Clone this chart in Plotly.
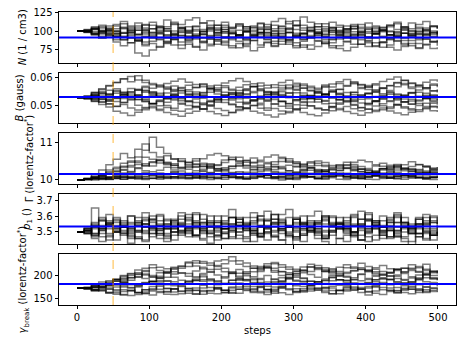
import plotly.graph_objects as go

N_walkers = [
 [100,100,97,101,94,96,88,91,86,93,90,97,92,95,99,93,96,90,94,101,97,92,95,89,93,98,94,100,96,91,95,88,92,97,93,99,95,90,94,98,92,96,101,95,91,97,93,88,94,98,95],
 [100,101,104,99,107,103,110,105,101,108,112,106,103,109,104,100,107,111,105,102,108,104,110,106,101,105,109,103,107,113,108,104,100,106,110,104,101,107,103,109,105,100,104,108,102,106,111,105,101,107,103],
 [100,99,95,90,92,85,80,84,70,66,74,79,83,88,81,85,78,84,89,82,86,80,77,83,87,81,85,79,82,88,84,78,81,86,83,77,80,85,89,82,79,84,78,81,87,83,80,76,82,85,80],
 [100,100,103,98,101,96,104,99,95,102,98,105,100,96,103,99,94,100,104,98,102,97,101,106,99,103,98,94,100,104,97,93,99,102,96,101,105,99,95,100,97,103,99,94,98,102,96,100,104,98,96],
 [100,98,102,106,101,109,113,107,111,104,108,101,106,112,109,115,118,111,114,108,112,105,109,103,107,111,106,113,117,110,114,108,104,110,106,112,108,103,109,105,111,107,102,108,112,106,103,109,113,107,104],
 [100,101,97,93,95,88,91,84,87,80,83,78,85,81,76,82,79,74,80,86,81,77,83,79,73,78,84,80,86,82,77,81,75,79,85,80,76,73,78,82,86,80,84,78,74,79,83,77,81,76,78],
 [100,99,102,96,99,93,97,101,95,98,92,96,90,94,98,93,89,95,91,97,92,88,94,99,95,91,96,90,93,98,94,89,92,97,91,95,99,93,90,95,91,96,92,88,93,97,94,90,95,92,96],
 [100,100,96,99,104,100,97,103,107,101,98,104,100,95,91,97,93,99,103,108,102,98,94,100,96,102,98,93,97,103,107,101,105,99,95,101,97,103,99,94,90,96,100,95,99,104,100,96,101,97,99],
 [100,102,106,100,97,93,98,90,87,92,96,89,86,91,94,88,92,85,89,94,90,96,91,87,92,95,89,86,91,88,93,96,90,94,88,84,89,93,96,91,87,90,85,89,93,87,91,95,89,86,88],
 [100,99,95,100,103,97,93,98,101,96,103,99,94,100,104,98,102,96,100,95,99,91,95,99,94,98,102,97,93,98,92,96,101,97,103,98,95,101,106,99,103,97,101,95,92,97,94,99,96,92,94],
 [100,100,104,108,102,99,105,101,96,100,94,98,103,97,101,106,100,96,102,98,105,100,95,99,104,97,102,108,103,98,102,97,101,95,99,105,100,96,92,98,102,99,105,100,96,101,97,103,99,95,100],
 [100,99,96,91,97,93,88,94,90,85,92,88,84,89,94,87,91,86,82,88,84,90,86,81,87,92,88,83,89,85,80,86,91,87,83,88,93,86,82,88,84,79,85,90,86,81,87,83,89,85,87],
 [100,101,99,104,100,107,103,98,104,109,103,107,115,110,105,101,106,102,108,104,99,103,107,101,105,110,104,100,106,102,108,119,112,106,101,104,98,102,107,103,99,105,101,106,110,104,100,97,102,106,103],
 [100,99,103,97,95,100,92,96,88,82,86,91,95,89,85,90,94,99,93,88,92,97,93,89,94,98,92,96,91,87,93,97,94,98,92,89,94,98,103,96,92,97,93,99,94,90,95,91,96,100,97],
]
B_walkers = [
 [0.0530,0.0531,0.0538,0.0546,0.0541,0.0555,0.0549,0.0562,0.0556,0.0570,0.0563,0.0575,0.0568,0.0559,0.0566,0.0574,0.0565,0.0579,0.0571,0.0564,0.0572,0.0560,0.0567,0.0576,0.0569,0.0582,0.0574,0.0566,0.0573,0.0561,0.0569,0.0578,0.0570,0.0563,0.0575,0.0568,0.0580,0.0573,0.0586,0.0577,0.0569,0.0575,0.0564,0.0572,0.0584,0.0576,0.0568,0.0574,0.0565,0.0578,0.0571],
 [0.0530,0.0529,0.0521,0.0514,0.0508,0.0499,0.0505,0.0493,0.0486,0.0492,0.0499,0.0488,0.0495,0.0485,0.0481,0.0489,0.0497,0.0490,0.0500,0.0491,0.0484,0.0478,0.0488,0.0494,0.0502,0.0492,0.0485,0.0491,0.0482,0.0476,0.0486,0.0492,0.0500,0.0490,0.0487,0.0495,0.0487,0.0498,0.0490,0.0483,0.0489,0.0480,0.0487,0.0496,0.0503,0.0493,0.0486,0.0480,0.0490,0.0496,0.0491],
 [0.0530,0.0532,0.0527,0.0536,0.0544,0.0533,0.0541,0.0549,0.0538,0.0553,0.0545,0.0534,0.0526,0.0537,0.0529,0.0541,0.0550,0.0539,0.0531,0.0524,0.0535,0.0546,0.0538,0.0544,0.0532,0.0525,0.0519,0.0530,0.0541,0.0535,0.0547,0.0536,0.0527,0.0534,0.0542,0.0551,0.0540,0.0531,0.0523,0.0535,0.0543,0.0549,0.0538,0.0530,0.0525,0.0537,0.0546,0.0533,0.0527,0.0539,0.0532],
 [0.0530,0.0535,0.0547,0.0559,0.0571,0.0584,0.0597,0.0586,0.0608,0.0592,0.0580,0.0571,0.0563,0.0552,0.0546,0.0558,0.0567,0.0576,0.0563,0.0557,0.0549,0.0543,0.0555,0.0561,0.0570,0.0558,0.0552,0.0545,0.0557,0.0566,0.0575,0.0563,0.0556,0.0548,0.0541,0.0553,0.0560,0.0570,0.0579,0.0566,0.0559,0.0551,0.0564,0.0573,0.0582,0.0592,0.0580,0.0569,0.0561,0.0574,0.0567],
 [0.0530,0.0526,0.0517,0.0505,0.0496,0.0481,0.0475,0.0466,0.0478,0.0487,0.0494,0.0484,0.0477,0.0470,0.0463,0.0474,0.0481,0.0489,0.0480,0.0472,0.0466,0.0476,0.0484,0.0492,0.0481,0.0475,0.0468,0.0461,0.0471,0.0480,0.0488,0.0477,0.0470,0.0465,0.0475,0.0483,0.0491,0.0480,0.0473,0.0467,0.0476,0.0485,0.0493,0.0482,0.0475,0.0469,0.0478,0.0487,0.0494,0.0483,0.0479],
 [0.0530,0.0534,0.0539,0.0528,0.0522,0.0516,0.0527,0.0535,0.0524,0.0517,0.0509,0.0521,0.0529,0.0538,0.0526,0.0518,0.0512,0.0504,0.0516,0.0525,0.0533,0.0521,0.0513,0.0507,0.0518,0.0527,0.0535,0.0523,0.0515,0.0508,0.0519,0.0528,0.0537,0.0525,0.0517,0.0510,0.0522,0.0531,0.0519,0.0511,0.0504,0.0516,0.0525,0.0533,0.0521,0.0513,0.0506,0.0518,0.0527,0.0515,0.0510],
 [0.0530,0.0528,0.0537,0.0546,0.0556,0.0545,0.0539,0.0551,0.0560,0.0549,0.0541,0.0534,0.0546,0.0555,0.0563,0.0552,0.0544,0.0537,0.0549,0.0558,0.0566,0.0555,0.0547,0.0540,0.0552,0.0561,0.0550,0.0542,0.0535,0.0547,0.0556,0.0564,0.0553,0.0545,0.0538,0.0550,0.0559,0.0548,0.0540,0.0533,0.0545,0.0554,0.0562,0.0551,0.0543,0.0536,0.0548,0.0557,0.0565,0.0554,0.0548],
 [0.0530,0.0533,0.0523,0.0514,0.0525,0.0533,0.0541,0.0530,0.0522,0.0515,0.0508,0.0501,0.0513,0.0521,0.0510,0.0502,0.0495,0.0507,0.0515,0.0523,0.0512,0.0504,0.0497,0.0490,0.0502,0.0510,0.0518,0.0507,0.0499,0.0492,0.0504,0.0512,0.0501,0.0493,0.0486,0.0498,0.0506,0.0514,0.0503,0.0495,0.0488,0.0500,0.0508,0.0516,0.0505,0.0497,0.0490,0.0502,0.0510,0.0499,0.0495],
 [0.0530,0.0536,0.0549,0.0561,0.0573,0.0584,0.0596,0.0605,0.0593,0.0584,0.0576,0.0568,0.0580,0.0588,0.0596,0.0585,0.0577,0.0569,0.0562,0.0574,0.0582,0.0590,0.0598,0.0587,0.0579,0.0571,0.0564,0.0576,0.0584,0.0592,0.0581,0.0573,0.0565,0.0558,0.0570,0.0578,0.0586,0.0594,0.0583,0.0575,0.0567,0.0579,0.0587,0.0595,0.0603,0.0591,0.0582,0.0574,0.0585,0.0593,0.0586],
 [0.0530,0.0525,0.0534,0.0524,0.0517,0.0528,0.0536,0.0543,0.0532,0.0525,0.0537,0.0545,0.0534,0.0526,0.0519,0.0531,0.0539,0.0528,0.0520,0.0532,0.0540,0.0547,0.0536,0.0528,0.0521,0.0533,0.0541,0.0548,0.0537,0.0529,0.0522,0.0515,0.0527,0.0535,0.0543,0.0532,0.0524,0.0517,0.0529,0.0537,0.0545,0.0534,0.0526,0.0519,0.0531,0.0539,0.0546,0.0535,0.0527,0.0520,0.0526],
 [0.0530,0.0530,0.0541,0.0533,0.0519,0.0527,0.0512,0.0524,0.0537,0.0521,0.0508,0.0516,0.0529,0.0543,0.0532,0.0518,0.0525,0.0511,0.0504,0.0519,0.0531,0.0540,0.0526,0.0513,0.0522,0.0536,0.0547,0.0530,0.0517,0.0509,0.0523,0.0538,0.0527,0.0514,0.0520,0.0533,0.0545,0.0529,0.0516,0.0524,0.0510,0.0519,0.0534,0.0542,0.0528,0.0515,0.0507,0.0521,0.0535,0.0526,0.0520],
 [0.0530,0.0531,0.0545,0.0552,0.0540,0.0561,0.0548,0.0535,0.0557,0.0566,0.0551,0.0539,0.0560,0.0571,0.0556,0.0543,0.0533,0.0548,0.0563,0.0552,0.0538,0.0529,0.0545,0.0558,0.0569,0.0554,0.0541,0.0550,0.0564,0.0575,0.0560,0.0546,0.0536,0.0552,0.0567,0.0557,0.0543,0.0534,0.0549,0.0562,0.0573,0.0558,0.0544,0.0555,0.0569,0.0580,0.0562,0.0549,0.0538,0.0553,0.0560],
 [0.0530,0.0529,0.0516,0.0523,0.0507,0.0498,0.0512,0.0521,0.0503,0.0495,0.0509,0.0518,0.0502,0.0492,0.0506,0.0515,0.0499,0.0488,0.0501,0.0513,0.0522,0.0507,0.0496,0.0510,0.0519,0.0504,0.0493,0.0507,0.0517,0.0500,0.0490,0.0503,0.0514,0.0524,0.0508,0.0497,0.0511,0.0520,0.0505,0.0494,0.0508,0.0516,0.0501,0.0491,0.0505,0.0515,0.0524,0.0509,0.0498,0.0510,0.0504],
 [0.0530,0.0532,0.0528,0.0543,0.0536,0.0552,0.0544,0.0529,0.0540,0.0556,0.0548,0.0533,0.0526,0.0541,0.0553,0.0538,0.0530,0.0546,0.0558,0.0543,0.0535,0.0527,0.0542,0.0555,0.0547,0.0532,0.0524,0.0539,0.0551,0.0545,0.0531,0.0523,0.0537,0.0550,0.0542,0.0528,0.0521,0.0536,0.0548,0.0540,0.0526,0.0519,0.0534,0.0547,0.0539,0.0525,0.0518,0.0533,0.0545,0.0537,0.0531],
]
Gamma_walkers = [
 [10.00,10.02,10.05,10.03,10.07,10.04,10.09,10.05,10.03,10.08,10.11,10.06,10.04,10.09,10.12,10.07,10.05,10.10,10.06,10.03,10.08,10.13,10.09,10.05,10.04,10.09,10.12,10.07,10.04,10.02,10.06,10.11,10.08,10.04,10.07,10.10,10.14,10.09,10.06,10.03,10.08,10.12,10.07,10.05,10.03,10.07,10.11,10.08,10.04,10.07,10.06],
 [10.00,10.05,10.16,10.27,10.41,10.56,10.71,10.60,10.83,10.97,10.74,10.62,10.48,10.44,10.33,10.47,10.57,10.45,10.41,10.31,10.29,10.37,10.40,10.52,10.59,10.49,10.47,10.36,10.33,10.25,10.35,10.41,10.49,10.39,10.36,10.27,10.25,10.32,10.37,10.29,10.27,10.21,10.30,10.35,10.42,10.33,10.30,10.22,10.21,10.28,10.30],
 [10.00,10.03,10.09,10.15,10.22,10.30,10.37,10.48,10.62,10.80,11.15,10.88,10.71,10.56,10.50,10.38,10.34,10.25,10.37,10.41,10.54,10.61,10.52,10.48,10.38,10.35,10.44,10.49,10.58,10.48,10.44,10.35,10.33,10.24,10.22,10.29,10.31,10.41,10.33,10.30,10.21,10.20,10.27,10.29,10.39,10.30,10.28,10.19,10.18,10.24,10.25],
 [10.00,10.01,10.04,10.07,10.03,10.09,10.13,10.08,10.16,10.20,10.13,10.11,10.17,10.22,10.16,10.13,10.08,10.14,10.19,10.24,10.18,10.15,10.09,10.16,10.21,10.15,10.13,10.07,10.14,10.19,10.13,10.11,10.16,10.22,10.27,10.19,10.16,10.10,10.17,10.11,10.09,10.14,10.19,10.23,10.16,10.14,10.08,10.15,10.20,10.14,10.12],
 [10.00,10.02,10.00,10.03,10.01,10.05,10.02,10.06,10.03,10.01,10.04,10.02,10.06,10.09,10.04,10.03,10.07,10.03,10.01,10.06,10.02,10.07,10.03,10.02,10.05,10.09,10.05,10.03,10.00,10.04,10.01,10.06,10.08,10.03,10.02,10.06,10.02,10.01,10.05,10.07,10.02,10.01,10.04,10.08,10.04,10.02,10.05,10.07,10.02,10.01,10.03],
 [10.00,10.04,10.11,10.17,10.27,10.34,10.45,10.51,10.47,10.39,10.49,10.55,10.65,10.57,10.51,10.42,10.51,10.57,10.67,10.71,10.65,10.55,10.49,10.40,10.48,10.53,10.62,10.67,10.61,10.51,10.46,10.38,10.46,10.51,10.47,10.39,10.35,10.39,10.48,10.53,10.49,10.41,10.37,10.30,10.37,10.41,10.49,10.41,10.37,10.30,10.35],
 [10.00,10.02,10.07,10.09,10.08,10.11,10.19,10.23,10.31,10.25,10.22,10.26,10.34,10.27,10.24,10.18,10.25,10.29,10.37,10.30,10.27,10.20,10.18,10.21,10.29,10.33,10.30,10.23,10.20,10.14,10.21,10.25,10.32,10.26,10.23,10.17,10.15,10.18,10.25,10.28,10.26,10.19,10.17,10.20,10.27,10.30,10.27,10.20,10.18,10.21,10.19],
 [10.00,10.01,10.05,10.01,10.06,10.08,10.07,10.09,10.08,10.10,10.16,10.10,10.09,10.04,10.10,10.12,10.11,10.06,10.12,10.14,10.13,10.07,10.06,10.08,10.14,10.16,10.14,10.09,10.08,10.10,10.16,10.11,10.09,10.04,10.10,10.11,10.10,10.05,10.11,10.13,10.19,10.13,10.11,10.06,10.12,10.14,10.12,10.07,10.06,10.08,10.07],
 [10.00,10.03,10.08,10.11,10.19,10.24,10.34,10.39,10.51,10.61,10.56,10.46,10.41,10.33,10.30,10.34,10.43,10.36,10.32,10.25,10.33,10.37,10.45,10.38,10.34,10.27,10.25,10.28,10.36,10.40,10.37,10.29,10.26,10.20,10.27,10.31,10.39,10.32,10.29,10.22,10.20,10.23,10.31,10.35,10.32,10.25,10.23,10.26,10.34,10.27,10.24],
 [10.00,10.01,10.03,10.03,10.02,10.06,10.02,10.07,10.09,10.05,10.05,10.06,10.11,10.06,10.06,10.07,10.12,10.07,10.07,10.08,10.13,10.08,10.07,10.03,10.08,10.09,10.14,10.09,10.08,10.04,10.09,10.10,10.09,10.05,10.10,10.11,10.16,10.10,10.09,10.05,10.10,10.11,10.10,10.06,10.11,10.12,10.11,10.06,10.06,10.07,10.10],
 [10.00,10.02,10.06,10.13,10.09,10.18,10.26,10.21,10.33,10.44,10.38,10.52,10.46,10.40,10.57,10.48,10.42,10.36,10.44,10.39,10.47,10.55,10.61,10.53,10.46,10.40,10.35,10.42,10.50,10.57,10.49,10.43,10.38,10.45,10.40,10.34,10.41,10.48,10.42,10.36,10.31,10.38,10.45,10.40,10.35,10.29,10.36,10.42,10.37,10.32,10.34],
 [10.00,10.01,10.02,10.05,10.03,10.04,10.07,10.04,10.06,10.03,10.05,10.08,10.06,10.09,10.07,10.04,10.06,10.10,10.08,10.05,10.07,10.09,10.06,10.04,10.08,10.11,10.07,10.05,10.09,10.06,10.04,10.07,10.10,10.08,10.05,10.09,10.12,10.08,10.06,10.04,10.07,10.10,10.07,10.05,10.09,10.11,10.08,10.06,10.04,10.07,10.06],
 [10.00,10.03,10.07,10.12,10.17,10.23,10.28,10.35,10.42,10.38,10.47,10.53,10.44,10.39,10.34,10.29,10.36,10.41,10.33,10.28,10.24,10.31,10.37,10.32,10.27,10.22,10.29,10.35,10.30,10.25,10.21,10.27,10.33,10.28,10.23,10.19,10.26,10.31,10.27,10.22,10.18,10.24,10.30,10.26,10.21,10.17,10.23,10.28,10.24,10.20,10.22],
 [10.00,10.02,10.04,10.08,10.06,10.11,10.09,10.14,10.12,10.17,10.15,10.19,10.16,10.21,10.18,10.14,10.19,10.23,10.20,10.16,10.13,10.18,10.22,10.17,10.14,10.11,10.16,10.20,10.15,10.12,10.17,10.21,10.18,10.14,10.11,10.16,10.19,10.15,10.12,10.09,10.14,10.18,10.15,10.11,10.09,10.13,10.17,10.14,10.11,10.08,10.12],
]
p1_walkers = [
 [3.50,3.51,3.54,3.57,3.61,3.56,3.53,3.55,3.59,3.62,3.57,3.54,3.52,3.57,3.60,3.55,3.62,3.58,3.53,3.56,3.60,3.64,3.58,3.55,3.59,3.54,3.57,3.61,3.56,3.53,3.58,3.55,3.60,3.63,3.57,3.54,3.59,3.56,3.61,3.55,3.52,3.57,3.54,3.59,3.62,3.56,3.53,3.58,3.55,3.59,3.56],
 [3.50,3.49,3.46,3.44,3.48,3.45,3.49,3.43,3.47,3.45,3.51,3.46,3.44,3.48,3.50,3.52,3.47,3.45,3.43,3.48,3.46,3.51,3.46,3.44,3.49,3.47,3.52,3.48,3.45,3.42,3.47,3.44,3.50,3.46,3.44,3.42,3.46,3.48,3.50,3.45,3.44,3.48,3.46,3.51,3.47,3.44,3.42,3.47,3.49,3.45,3.47],
 [3.50,3.53,3.65,3.57,3.52,3.50,3.54,3.56,3.51,3.49,3.54,3.57,3.52,3.50,3.48,3.53,3.56,3.51,3.49,3.47,3.52,3.55,3.58,3.53,3.50,3.48,3.53,3.56,3.51,3.49,3.47,3.52,3.55,3.50,3.48,3.53,3.56,3.59,3.54,3.51,3.49,3.54,3.57,3.52,3.49,3.47,3.52,3.55,3.50,3.49,3.52],
 [3.50,3.51,3.55,3.52,3.57,3.59,3.55,3.60,3.56,3.53,3.58,3.61,3.57,3.54,3.58,3.61,3.56,3.53,3.57,3.60,3.55,3.52,3.56,3.59,3.62,3.57,3.54,3.58,3.61,3.64,3.59,3.56,3.53,3.57,3.60,3.55,3.53,3.57,3.60,3.63,3.58,3.55,3.53,3.58,3.61,3.56,3.53,3.58,3.61,3.56,3.55],
 [3.50,3.50,3.48,3.51,3.47,3.50,3.53,3.48,3.46,3.51,3.53,3.49,3.47,3.52,3.54,3.50,3.48,3.46,3.51,3.53,3.49,3.47,3.52,3.54,3.49,3.47,3.45,3.50,3.52,3.48,3.46,3.51,3.53,3.49,3.46,3.50,3.53,3.49,3.47,3.45,3.50,3.52,3.48,3.46,3.51,3.53,3.49,3.47,3.52,3.48,3.50],
 [3.50,3.52,3.49,3.54,3.56,3.52,3.49,3.53,3.56,3.58,3.53,3.51,3.49,3.53,3.55,3.51,3.48,3.52,3.55,3.57,3.52,3.50,3.54,3.56,3.52,3.49,3.53,3.56,3.58,3.53,3.51,3.55,3.57,3.52,3.50,3.54,3.56,3.52,3.50,3.54,3.57,3.53,3.50,3.54,3.56,3.52,3.49,3.53,3.56,3.52,3.54],
 [3.50,3.49,3.52,3.47,3.45,3.50,3.53,3.49,3.46,3.44,3.49,3.52,3.48,3.45,3.49,3.52,3.55,3.50,3.47,3.45,3.50,3.53,3.48,3.46,3.44,3.49,3.52,3.47,3.45,3.50,3.53,3.56,3.51,3.48,3.46,3.51,3.46,3.44,3.49,3.52,3.47,3.45,3.50,3.53,3.48,3.46,3.44,3.49,3.45,3.48,3.47],
 [3.50,3.52,3.56,3.59,3.54,3.52,3.57,3.52,3.50,3.55,3.58,3.60,3.55,3.52,3.56,3.59,3.54,3.51,3.49,3.54,3.57,3.59,3.54,3.51,3.55,3.58,3.53,3.51,3.56,3.59,3.55,3.52,3.50,3.55,3.58,3.60,3.55,3.53,3.50,3.55,3.58,3.54,3.51,3.56,3.59,3.54,3.51,3.49,3.54,3.57,3.54],
 [3.50,3.51,3.48,3.53,3.55,3.50,3.48,3.52,3.54,3.50,3.47,3.51,3.54,3.56,3.51,3.49,3.53,3.55,3.50,3.48,3.52,3.54,3.50,3.47,3.51,3.53,3.49,3.47,3.52,3.54,3.50,3.48,3.52,3.55,3.51,3.48,3.52,3.54,3.50,3.48,3.52,3.54,3.49,3.47,3.51,3.53,3.49,3.54,3.50,3.48,3.51],
 [3.50,3.50,3.53,3.49,3.54,3.57,3.53,3.50,3.54,3.57,3.60,3.55,3.52,3.50,3.55,3.58,3.61,3.56,3.53,3.51,3.56,3.59,3.54,3.52,3.57,3.60,3.63,3.58,3.55,3.53,3.58,3.54,3.51,3.56,3.59,3.55,3.52,3.50,3.55,3.58,3.61,3.56,3.53,3.51,3.56,3.59,3.54,3.52,3.57,3.60,3.57],
 [3.50,3.51,3.47,3.52,3.49,3.54,3.51,3.46,3.50,3.55,3.52,3.48,3.53,3.57,3.51,3.47,3.52,3.49,3.54,3.50,3.46,3.51,3.56,3.52,3.48,3.53,3.50,3.55,3.51,3.47,3.52,3.48,3.54,3.51,3.46,3.50,3.55,3.52,3.48,3.53,3.57,3.52,3.48,3.51,3.47,3.53,3.50,3.55,3.51,3.48,3.50],
 [3.50,3.49,3.53,3.58,3.55,3.51,3.56,3.60,3.57,3.53,3.49,3.54,3.58,3.55,3.50,3.53,3.57,3.61,3.56,3.52,3.55,3.59,3.54,3.51,3.56,3.60,3.57,3.53,3.49,3.54,3.58,3.55,3.51,3.56,3.60,3.56,3.52,3.55,3.59,3.54,3.51,3.56,3.60,3.57,3.53,3.50,3.55,3.59,3.55,3.51,3.54],
 [3.50,3.51,3.49,3.52,3.56,3.53,3.50,3.47,3.51,3.55,3.52,3.49,3.46,3.50,3.54,3.51,3.48,3.52,3.56,3.53,3.49,3.46,3.50,3.54,3.51,3.47,3.50,3.55,3.52,3.48,3.45,3.49,3.53,3.50,3.47,3.51,3.55,3.52,3.48,3.45,3.50,3.54,3.51,3.47,3.50,3.55,3.52,3.49,3.46,3.50,3.49],
 [3.50,3.52,3.54,3.51,3.55,3.58,3.54,3.51,3.55,3.59,3.56,3.52,3.55,3.58,3.62,3.57,3.53,3.56,3.60,3.56,3.52,3.55,3.59,3.55,3.51,3.54,3.58,3.61,3.57,3.53,3.56,3.60,3.56,3.52,3.55,3.59,3.55,3.51,3.54,3.58,3.62,3.57,3.53,3.56,3.60,3.56,3.52,3.55,3.59,3.56,3.55],
]
gbreak_walkers = [
 [172,173,176,181,179,188,193,201,197,210,218,212,207,217,221,229,222,216,214,223,227,233,226,221,217,213,222,227,219,215,211,220,226,218,214,210,219,225,217,214,209,218,223,216,212,208,217,221,215,211,210],
 [172,171,167,166,161,159,165,167,163,160,157,163,165,171,166,161,159,165,167,173,168,163,161,167,169,175,170,165,162,158,165,167,173,168,163,160,167,169,175,170,165,161,158,165,167,163,160,167,169,165,166],
 [172,174,175,182,184,191,195,204,207,202,198,207,210,219,222,231,234,228,224,233,236,243,234,229,222,218,227,230,225,220,215,211,220,223,218,213,210,218,220,228,221,215,210,206,215,217,225,218,212,207,212],
 [172,172,175,176,181,182,187,181,180,185,188,195,189,187,181,188,191,198,192,189,183,190,193,200,194,192,186,193,196,203,197,194,188,186,189,196,199,197,191,189,192,199,202,200,194,192,195,202,196,194,195],
 [172,171,169,169,170,175,169,168,163,169,171,177,172,170,165,171,173,179,174,172,167,173,175,181,176,174,169,175,177,183,178,176,170,169,171,177,179,178,172,171,173,179,181,180,174,172,174,180,175,173,174],
 [172,173,178,181,189,193,201,205,213,217,225,219,216,209,217,221,229,232,229,221,217,209,206,209,217,221,219,212,209,203,210,213,220,214,211,204,202,205,212,215,213,206,204,207,214,217,215,208,206,209,207],
 [172,172,170,174,175,180,175,174,177,184,187,186,180,178,181,188,190,188,182,180,183,190,193,191,185,183,177,184,187,194,188,186,180,187,190,197,191,189,183,181,184,191,194,192,186,184,187,194,226,196,190],
 [172,172,169,168,163,162,157,156,158,164,166,165,159,158,160,166,168,167,161,160,162,168,170,169,163,162,164,170,172,171,165,164,166,172,174,173,167,166,168,174,176,175,169,167,162,168,170,169,163,168,165],
 [172,174,174,180,182,188,190,196,198,204,197,194,197,204,207,205,198,205,208,215,209,206,199,206,209,216,219,217,210,207,200,207,210,217,211,208,201,208,211,218,212,209,202,199,202,209,212,210,203,201,203],
 [172,172,174,174,179,180,185,180,179,181,187,189,188,182,181,183,189,191,189,183,182,184,190,192,191,185,181,187,189,195,190,188,182,181,183,189,191,190,184,183,185,191,193,192,186,184,186,192,187,185,186],
 [172,170,166,172,163,169,158,166,175,161,169,180,171,164,176,168,160,173,181,170,163,175,184,172,165,177,169,161,174,182,171,166,178,187,174,167,160,173,181,170,164,176,185,173,166,178,170,163,175,182,176],
 [172,173,179,186,180,192,199,190,204,212,201,196,208,215,206,199,211,219,209,202,195,207,214,204,198,210,217,208,201,193,205,212,203,197,209,216,206,199,192,204,211,202,196,208,215,205,198,191,203,210,205],
 [172,172,168,175,171,166,178,173,162,169,176,170,164,171,178,172,167,159,166,174,168,161,170,177,171,165,158,167,175,169,163,171,178,172,166,160,168,175,169,163,157,166,174,168,162,170,177,171,165,172,168],
 [172,174,180,177,186,191,185,196,203,194,188,199,206,197,190,184,195,202,193,187,198,205,196,189,183,194,201,192,186,197,204,195,188,182,193,200,191,185,196,203,194,187,181,192,199,190,184,195,202,193,190],
]
best_fit = [91.3, 0.0532, 10.16, 3.535, 182.0]
burn_in = 50
y_titles = [
    "<i>N</i> (1 / cm3)",
    "<i>B</i> (gauss)",
    "Γ (lorentz-factor<sup>*</sup>)",
    "<i>p</i><sub>1</sub> ()",
    "<i>γ</i><sub>break</sub> (lorentz-factor<sup>*</sup>)",
]
y_ranges = [[57, 126], [0.0439, 0.0619], [9.9, 11.26], [3.423, 3.739], [135, 248]]
y_ticks = [[75, 100, 125], [0.05, 0.06], [10, 11], [3.5, 3.6, 3.7], [150, 200]]
y_ticktext = [["75", "100", "125"], ["0.05", "0.06"], ["10", "11"], ["3.5", "3.6", "3.7"], ["150", "200"]]
x_ticks = [0, 100, 200, 300, 400, 500]

panels = [N_walkers, B_walkers, Gamma_walkers, p1_walkers, gbreak_walkers]

FONT = "DejaVu Sans"
fig = go.Figure()

H = 50.5 / 293.0
G = 10.1 / 293.0
for i, walkers in enumerate(panels):
    ax = "" if i == 0 else str(i + 1)
    for w in walkers:
        n = len(w)
        xs = [round(k * 499 / (n - 1)) for k in range(n)]
        fig.add_trace(go.Scatter(
            x=xs, y=w, mode="lines", line_shape="hv",
            line=dict(color="rgba(0,0,0,0.5)", width=1.5),
            xaxis="x" + ax, yaxis="y" + ax, showlegend=False, hoverinfo="skip"))
    top = 1 - i * (H + G)
    bot = top - H
    last = (i == len(panels) - 1)
    fig.update_layout(**{
        "xaxis" + ax: dict(
            domain=[0, 1], range=[-25, 525], anchor="y" + ax,
            tickvals=x_ticks, ticktext=[str(t) for t in x_ticks],
            showticklabels=last, ticks="outside", ticklen=3.5, tickwidth=0.8,
            tickcolor="black", showline=True, linecolor="black", linewidth=1,
            mirror=True, showgrid=False, zeroline=False,
            matches=None if i == 0 else "x",
            title=dict(text="steps" if last else "", font=dict(size=10, color="black", family=FONT), standoff=4),
            tickfont=dict(size=10, color="black", family=FONT)),
        "yaxis" + ax: dict(
            domain=[max(bot, 0), min(top, 1)], range=y_ranges[i], anchor="x" + ax,
            tickvals=y_ticks[i], ticktext=y_ticktext[i],
            ticks="outside", ticklen=3.5, tickwidth=0.8, tickcolor="black",
            showline=True, linecolor="black", linewidth=1, mirror=True,
            showgrid=False, zeroline=False,
            title=dict(text=y_titles[i], font=dict(size=10, color="black", family=FONT), standoff=4),
            tickfont=dict(size=10, color="black", family=FONT)),
    })
    fig.add_shape(type="line", xref="x" + ax + " domain", yref="y" + ax,
                  x0=0, x1=1, y0=best_fit[i], y1=best_fit[i],
                  line=dict(color="#0000ff", width=2), layer="above")

fig.add_shape(type="line", xref="x", yref="paper", x0=burn_in, x1=burn_in, y0=0, y1=1,
              line=dict(color="rgba(255,165,0,0.5)", width=1.5, dash="dash"), layer="above")

fig.update_layout(
    width=463, height=347,
    margin=dict(l=59, r=7, t=12, b=42, autoexpand=False),
    paper_bgcolor="white", plot_bgcolor="white",
    font=dict(family=FONT, size=10, color="black"),
)
fig.write_html("out.html")
